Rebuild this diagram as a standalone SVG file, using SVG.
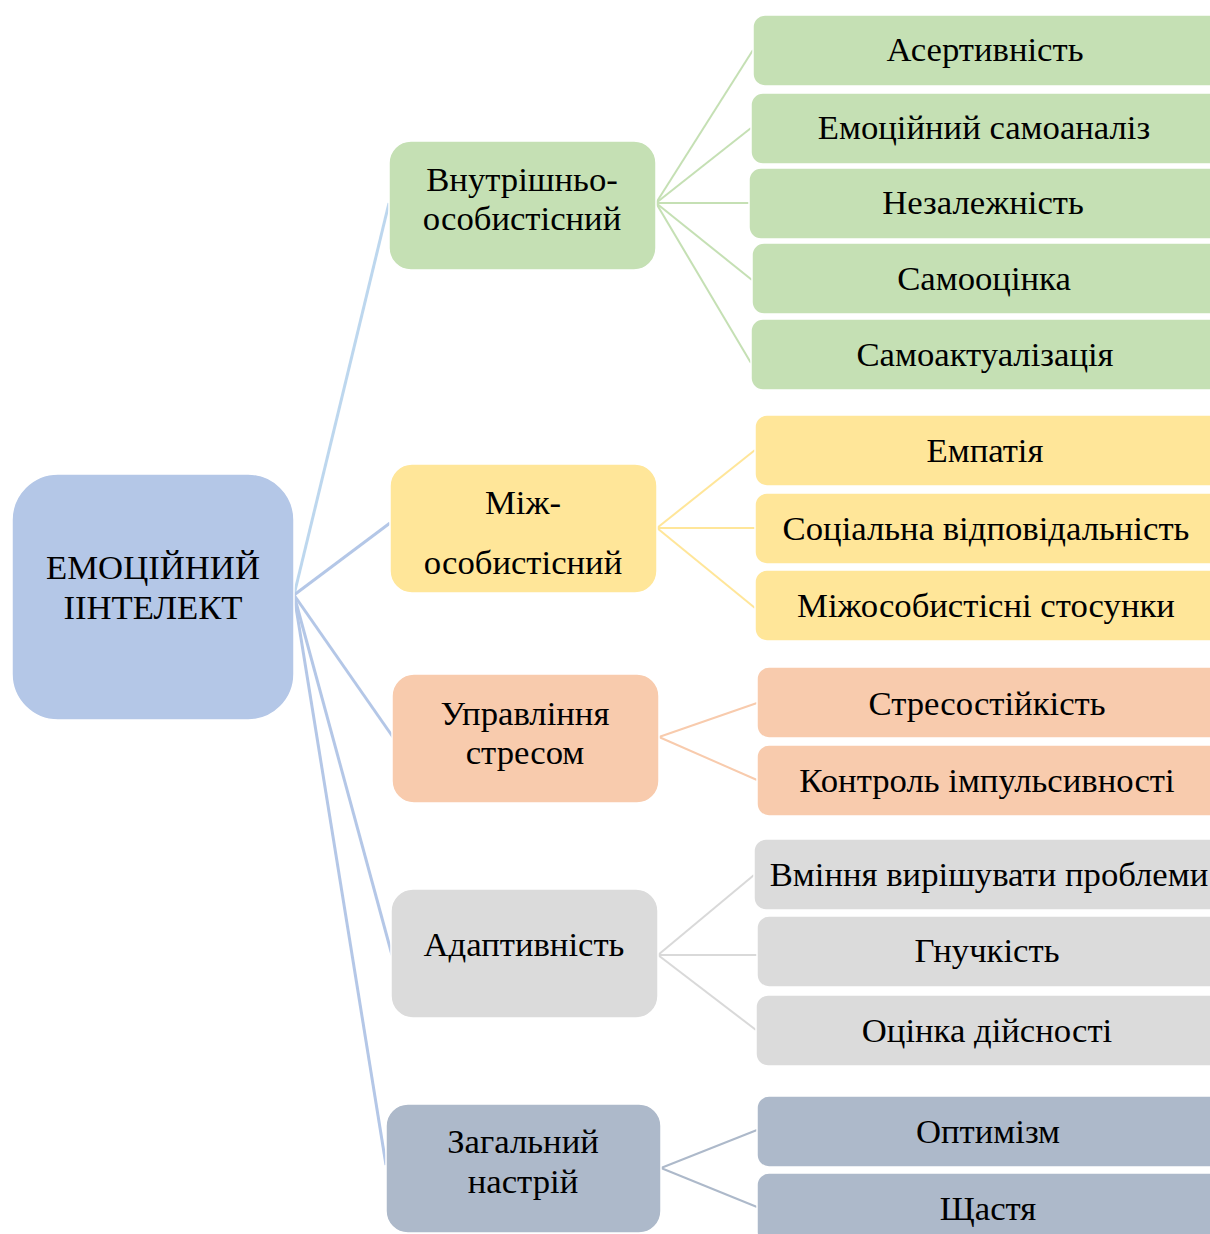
<svg xmlns="http://www.w3.org/2000/svg" width="1210" height="1234" viewBox="0 0 1210 1234">
  <style>
    text { font-family: "Liberation Serif", "Times New Roman", serif; font-size: 34.7px; fill: #000; text-anchor: middle; }
    .box { stroke: #ffffff; stroke-width: 1.5; }
    .root { fill: #b4c7e7; }
    .green { fill: #c5e0b4; }
    .yellow { fill: #ffe699; }
    .orange { fill: #f8cbad; }
    .gray { fill: #dbdbdb; }
    .steel { fill: #adb9ca; }
    .c-root { stroke: #b4c7e7; stroke-width: 3; fill: none; }
    .c-green { stroke: #c5e0b4; stroke-width: 2; fill: none; }
    .c-yellow { stroke: #ffe699; stroke-width: 2; fill: none; }
    .c-orange { stroke: #f8cbad; stroke-width: 2; fill: none; }
    .c-gray { stroke: #d9d9d9; stroke-width: 2; fill: none; }
    .c-steel { stroke: #adb9ca; stroke-width: 2; fill: none; }
  </style>

  <!-- connectors -->
  <g id="connectors">
    <line class="c-root" x1="294" y1="595" x2="389" y2="203" style="stroke:#bdd7ee"/>
    <line class="c-root" x1="294" y1="595" x2="390" y2="523"/>
    <line class="c-root" x1="294" y1="595" x2="395" y2="740"/>
    <line class="c-root" x1="294" y1="595" x2="392" y2="955"/>
    <line class="c-root" x1="294" y1="595" x2="386" y2="1165"/>

    <line class="c-green" x1="656" y1="203" x2="753" y2="50"/>
    <line class="c-green" x1="656" y1="203" x2="751" y2="128"/>
    <line class="c-green" x1="656" y1="203" x2="749" y2="203"/>
    <line class="c-green" x1="656" y1="203" x2="752" y2="280"/>
    <line class="c-green" x1="656" y1="203" x2="751" y2="363"/>

    <line class="c-yellow" x1="657" y1="528" x2="755" y2="450"/>
    <line class="c-yellow" x1="657" y1="528" x2="755" y2="528"/>
    <line class="c-yellow" x1="657" y1="528" x2="755" y2="608"/>

    <line class="c-orange" x1="659" y1="737" x2="757" y2="703"/>
    <line class="c-orange" x1="659" y1="737" x2="757" y2="780"/>

    <line class="c-gray" x1="658" y1="955" x2="754" y2="875"/>
    <line class="c-gray" x1="658" y1="955" x2="757" y2="955"/>
    <line class="c-gray" x1="658" y1="955" x2="756" y2="1030"/>

    <line class="c-steel" x1="661" y1="1168" x2="757" y2="1130"/>
    <line class="c-steel" x1="661" y1="1168" x2="757" y2="1207"/>
  </g>

  <!-- root -->
  <g id="root">
    <rect class="box root" x="12" y="474" width="282" height="246" rx="46"/>
    <text x="153" y="579">ЕМОЦІЙНИЙ</text>
    <text x="153" y="619">ІІНТЕЛЕКТ</text>
  </g>

  <!-- first level -->
  <g id="intrapersonal">
    <rect class="box green" x="389" y="141" width="267" height="129" rx="22"/>
    <text x="522" y="191">Внутрішньо-</text>
    <text x="522" y="230">особистісний</text>
  </g>
  <g id="interpersonal">
    <rect class="box yellow" x="390" y="464" width="267" height="129" rx="22"/>
    <text x="523" y="514">Між-</text>
    <text x="523" y="574">особистісний</text>
  </g>
  <g id="stress">
    <rect class="box orange" x="392" y="674" width="267" height="129" rx="22"/>
    <text x="525" y="725">Управління</text>
    <text x="525" y="764">стресом</text>
  </g>
  <g id="adaptability">
    <rect class="box gray" x="391" y="889" width="267" height="129" rx="22"/>
    <text x="524" y="956">Адаптивність</text>
  </g>
  <g id="mood">
    <rect class="box steel" x="386" y="1104" width="275" height="129" rx="22"/>
    <text x="523" y="1153">Загальний</text>
    <text x="523" y="1193">настрій</text>
  </g>

  <!-- second level -->
  <g id="assertiveness">
    <rect class="box green" x="753" y="15" width="470" height="71" rx="12"/>
    <text x="985" y="61">Асертивність</text>
  </g>
  <g id="self-awareness">
    <rect class="box green" x="751" y="93" width="472" height="71" rx="12"/>
    <text x="984" y="139">Емоційний самоаналіз</text>
  </g>
  <g id="independence">
    <rect class="box green" x="749" y="168" width="474" height="71" rx="12"/>
    <text x="983" y="214">Незалежність</text>
  </g>
  <g id="self-regard">
    <rect class="box green" x="752" y="243" width="471" height="71" rx="12"/>
    <text x="984" y="290">Самооцінка</text>
  </g>
  <g id="self-actualization">
    <rect class="box green" x="751" y="319" width="472" height="71" rx="12"/>
    <text x="985" y="366">Самоактуалізація</text>
  </g>

  <g id="empathy">
    <rect class="box yellow" x="755" y="415" width="468" height="71" rx="12"/>
    <text x="985" y="462">Емпатія</text>
  </g>
  <g id="social-responsibility">
    <rect class="box yellow" x="755" y="493" width="468" height="71" rx="12"/>
    <text x="986" y="540">Соціальна відповідальність</text>
  </g>
  <g id="relationships">
    <rect class="box yellow" x="755" y="570" width="468" height="71" rx="12"/>
    <text x="986" y="617">Міжособистісні стосунки</text>
  </g>

  <g id="stress-tolerance">
    <rect class="box orange" x="757" y="667" width="466" height="71" rx="12"/>
    <text x="987" y="715">Стресостійкість</text>
  </g>
  <g id="impulse-control">
    <rect class="box orange" x="757" y="745" width="466" height="71" rx="12"/>
    <text x="987" y="792">Контроль імпульсивності</text>
  </g>

  <g id="problem-solving">
    <rect class="box gray" x="754" y="839" width="469" height="71" rx="12"/>
    <text x="989" y="886">Вміння вирішувати проблеми</text>
  </g>
  <g id="flexibility">
    <rect class="box gray" x="757" y="916" width="466" height="71" rx="12"/>
    <text x="987" y="962">Гнучкість</text>
  </g>
  <g id="reality-testing">
    <rect class="box gray" x="756" y="995" width="467" height="71" rx="12"/>
    <text x="987" y="1042">Оцінка дійсності</text>
  </g>

  <g id="optimism">
    <rect class="box steel" x="757" y="1096" width="466" height="71" rx="12"/>
    <text x="988" y="1143">Оптимізм</text>
  </g>
  <g id="happiness">
    <rect class="box steel" x="757" y="1173" width="466" height="71" rx="12"/>
    <text x="988" y="1220">Щастя</text>
  </g>
</svg>
